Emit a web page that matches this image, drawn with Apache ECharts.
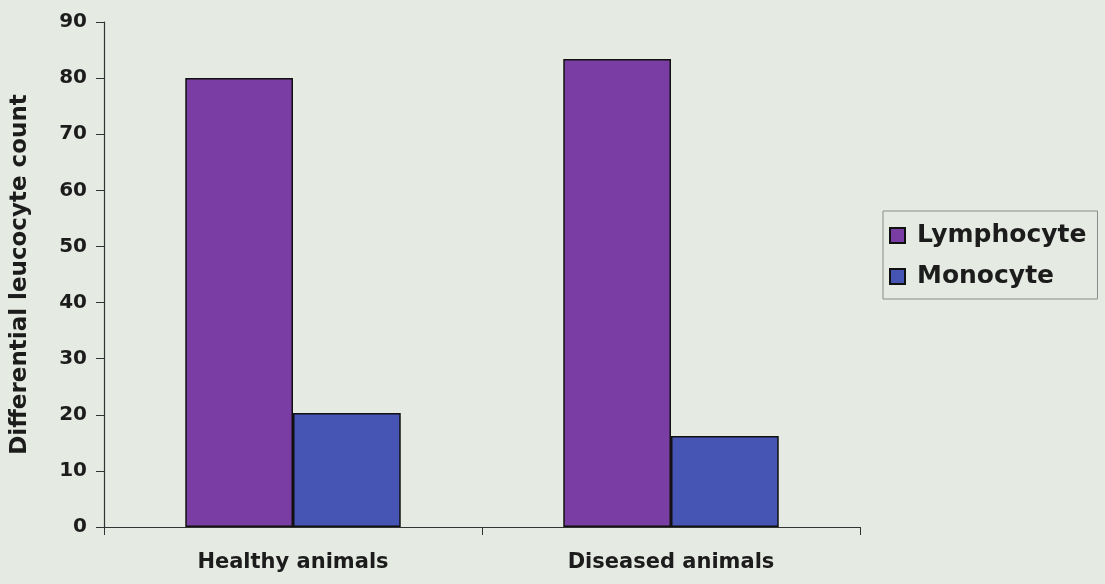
<!DOCTYPE html>
<html>
<head>
<meta charset="utf-8">
<title>Differential leucocyte count</title>
<script src="https://cdn.jsdelivr.net/npm/echarts@6/dist/echarts.min.js"></script>
<style>
  html, body { margin: 0; padding: 0; background: #e5eae2; }
  #chart { width: 1105px; height: 584px; }
</style>
</head>
<body>
<div id="chart"></div>
<script>
// Differential leucocyte count (%) in healthy vs diseased animals
const categories = ['Healthy animals', 'Diseased animals'];
const lymphocyte = [80, 83.4];
const monocyte = [20.3, 16.2];
const yTicks = { min: 0, max: 90, interval: 10 };

const FONT = '"DejaVu Sans", "Liberation Sans", Arial, sans-serif';
const INK = '#1c1c1c';

const chart = echarts.init(document.getElementById('chart'));

chart.setOption({
  backgroundColor: '#e5eae2',
  animation: false,
  textStyle: { fontFamily: FONT },
  grid: { left: 104, right: 245, top: 22, bottom: 57, containLabel: false, outerBoundsMode: 'none' },
  legend: {
    orient: 'vertical',
    left: 883,
    top: 211,
    padding: [12, 11, 10, 6],
    itemGap: 16,
    itemWidth: 15,
    itemHeight: 15,
    borderColor: '#8a8a8a',
    borderWidth: 1,
    icon: 'rect',
    textStyle: { fontFamily: FONT, fontSize: 25, fontWeight: 'bold', color: INK, padding: [0, 0, 0, 7] },
    data: ['Lymphocyte', 'Monocyte']
  },
  xAxis: {
    type: 'category',
    data: categories,
    axisLine: { lineStyle: { color: '#333', width: 1.2 } },
    axisTick: { show: true, alignWithLabel: false, length: 8, lineStyle: { color: '#333' } },
    axisLabel: { color: INK, fontSize: 21, fontWeight: 'bold', margin: 25, fontFamily: FONT },
    splitLine: { show: false }
  },
  yAxis: {
    type: 'value',
    min: yTicks.min,
    max: yTicks.max,
    interval: yTicks.interval,
    name: 'Differential leucocyte count',
    nameLocation: 'middle',
    nameRotate: 90,
    nameGap: 72,
    nameTextStyle: { color: INK, fontSize: 23, fontWeight: 'bold', fontFamily: FONT },
    axisLine: { show: true, lineStyle: { color: '#333', width: 1.2 } },
    axisTick: { show: true, length: 8, lineStyle: { color: '#333' } },
    axisLabel: { color: INK, fontSize: 20, fontWeight: 'bold', margin: 17, fontFamily: FONT },
    splitLine: { show: false }
  },
  series: [
    {
      name: 'Lymphocyte',
      type: 'bar',
      data: lymphocyte,
      barGap: '0%',
      barCategoryGap: '43%',
      itemStyle: { color: '#7a3da3', borderColor: '#111', borderWidth: 1.5 }
    },
    {
      name: 'Monocyte',
      type: 'bar',
      data: monocyte,
      itemStyle: { color: '#4654b4', borderColor: '#111', borderWidth: 1.5 }
    }
  ]
});
</script>
</body>
</html>
